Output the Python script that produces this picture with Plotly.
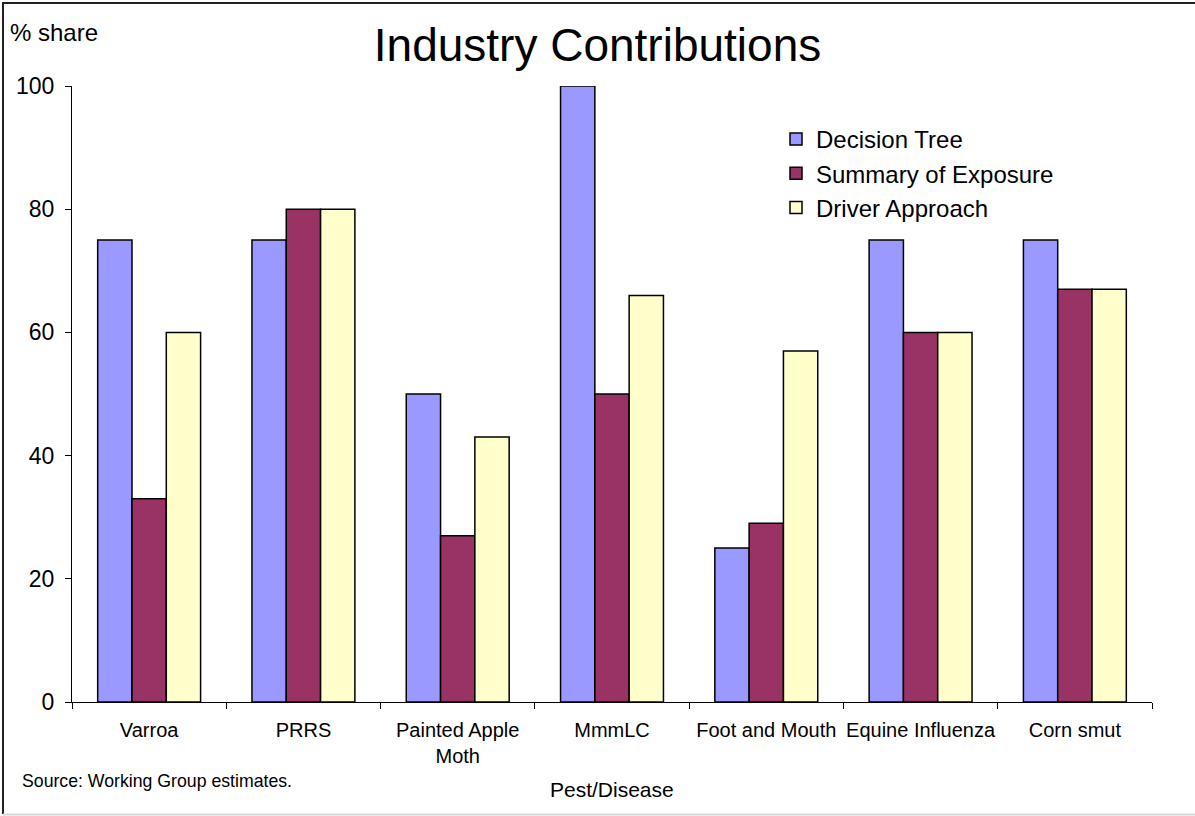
import plotly.graph_objects as go

categories = ["Varroa", "PRRS", "Painted Apple<br>Moth", "MmmLC", "Foot and Mouth",
              "Equine Influenza", "Corn smut"]
decision_tree = [75, 75, 50, 100, 25, 75, 75]
summary_exposure = [33, 80, 27, 50, 29, 60, 67]
driver_approach = [60, 80, 43, 66, 57, 60, 67]
y_ticks = [0, 20, 40, 60, 80, 100]

FONT = "Liberation Sans, Arial, sans-serif"
W, H = 1195, 816
L, R, T, B = 72, 43, 86, 114
pw, ph = W - L - R, H - T - B

def px_x(x):
    return (x - L) / pw

def px_y(y):
    return (H - B - y) / ph

fig = go.Figure()
for name, vals, color in [("Decision Tree", decision_tree, "#9999FF"),
                          ("Summary of Exposure", summary_exposure, "#993366"),
                          ("Driver Approach", driver_approach, "#FFFFCC")]:
    fig.add_trace(go.Bar(x=categories, y=vals, name=name,
                         marker=dict(color=color, line=dict(color="black", width=1.5))))

fig.update_layout(
    width=W, height=H,
    margin=dict(l=L, r=R, t=T, b=B),
    paper_bgcolor="white", plot_bgcolor="white",
    barmode="group", bargap=0.333, bargroupgap=0,
    font=dict(family=FONT, color="black"),
    title=dict(text="Industry Contributions", font=dict(size=46, family=FONT, color="black"),
               x=0.5, xref="container", xanchor="center",
               y=1 - 45 / H, yref="container", yanchor="middle"),
    showlegend=True,
    legend=dict(x=px_x(776), y=px_y(117), xanchor="left", yanchor="top",
                font=dict(size=24, family=FONT), bgcolor="rgba(0,0,0,0)",
                traceorder="normal"),
    xaxis=dict(showline=True, linecolor="black", linewidth=1, ticks="outside",
               tickson="boundaries", ticklen=6, tickcolor="black",
               tickfont=dict(size=20), showgrid=False, fixedrange=True,
               ticklabelstandoff=10, tickangle=0, automargin=False),
    yaxis=dict(range=[0, 100], tickvals=y_ticks, showline=True, linecolor="black",
               linewidth=1, ticks="outside", ticklen=6, tickcolor="black",
               tickfont=dict(size=23), showgrid=False, zeroline=False,
               ticklabelstandoff=6, automargin=False),
)

fig.add_annotation(text="% share", xref="paper", yref="paper", x=px_x(8), y=px_y(32),
                   xanchor="left", yanchor="middle", showarrow=False,
                   font=dict(size=24, family=FONT))
fig.add_annotation(text="Source: Working Group estimates.", xref="paper", yref="paper",
                   x=px_x(20), y=px_y(781), xanchor="left", yanchor="middle",
                   showarrow=False, font=dict(size=17.7, family=FONT))
fig.add_annotation(text="Pest/Disease", xref="paper", yref="paper",
                   x=px_x(612), y=px_y(789), xanchor="center", yanchor="middle",
                   showarrow=False, font=dict(size=21, family=FONT))

# outer chart border: dark left/top, light bottom
fig.add_shape(type="path", xref="paper", yref="paper",
              path=f"M {px_x(1200)} {px_y(3)} L {px_x(3)} {px_y(3)} L {px_x(3)} {px_y(814)}",
              line=dict(color="#222222", width=2), layer="below")
fig.add_shape(type="line", xref="paper", yref="paper",
              x0=px_x(3), x1=px_x(1200), y0=px_y(814.5), y1=px_y(814.5),
              line=dict(color="#d8d8d8", width=2), layer="below")

fig.write_html("out.html")
